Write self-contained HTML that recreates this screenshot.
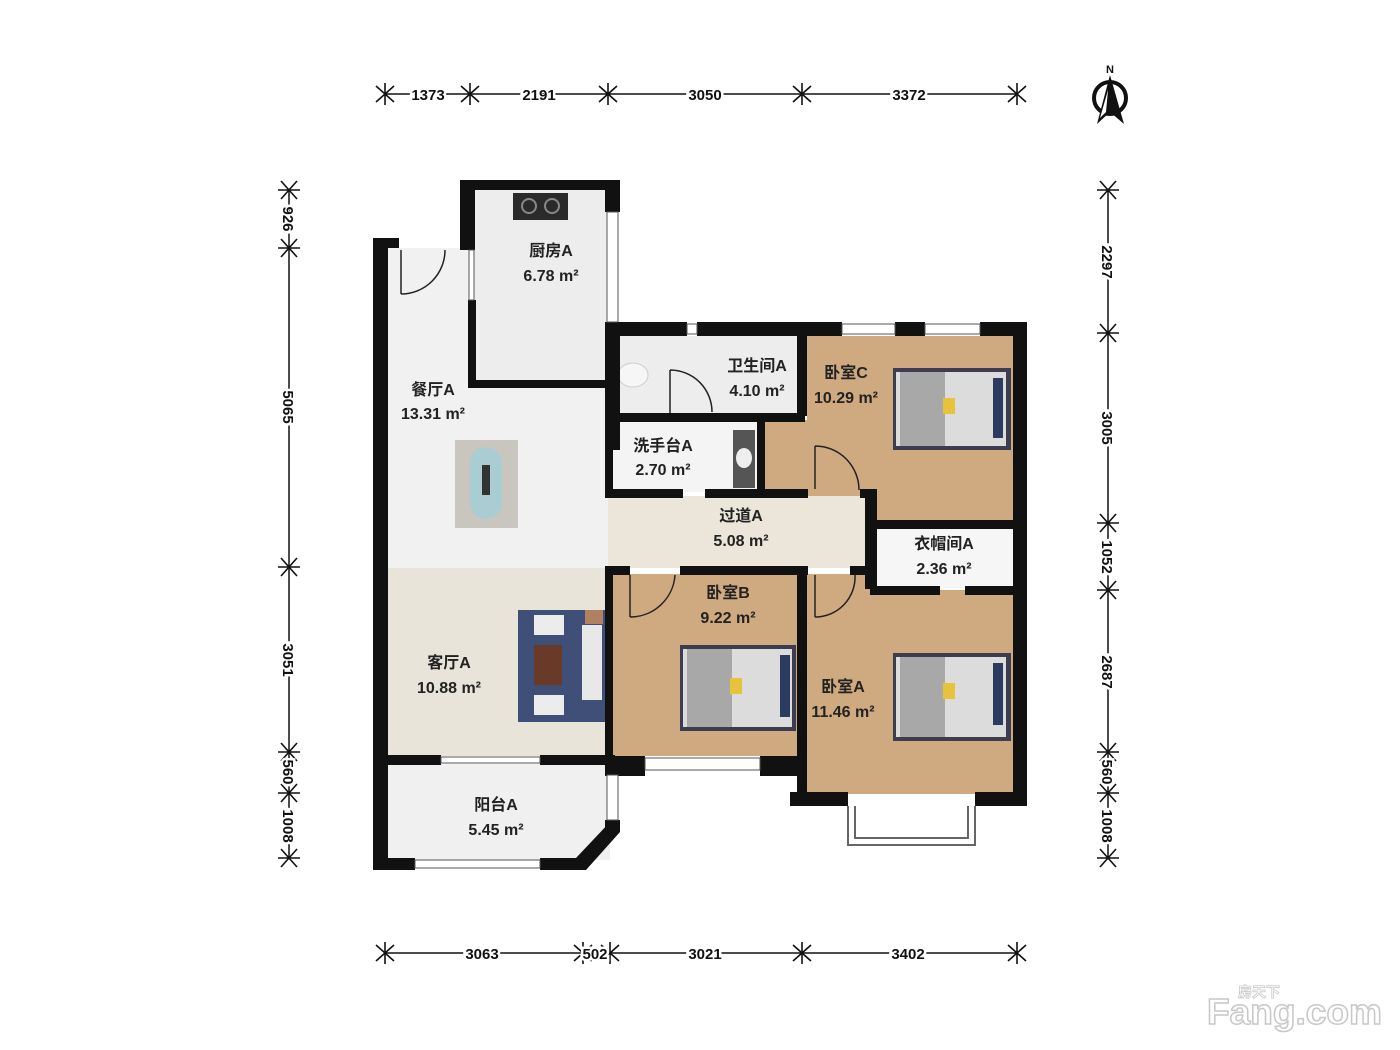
<!DOCTYPE html>
<html><head><meta charset="utf-8"><style>
html,body{margin:0;padding:0;background:#fff;}
svg{display:block;}
text{font-family:"Liberation Sans","Noto Sans CJK SC",sans-serif;font-weight:bold;}
.dim{font-size:15px;fill:#111;stroke:#fff;stroke-width:5px;paint-order:stroke;}
.lbl{font-size:16px;fill:#222;text-anchor:middle;}
</style></head><body>
<svg width="1400" height="1050" viewBox="0 0 1400 1050" xmlns="http://www.w3.org/2000/svg">
<defs>
<g id="tk" stroke="#111" stroke-width="1.6"><line x1="0" y1="-11" x2="0" y2="11"/><line x1="-9" y1="-8" x2="9" y2="8"/><line x1="-9" y1="8" x2="9" y2="-8"/></g>
</defs>
<line x1="385" y1="94" x2="1017" y2="94" stroke="#111" stroke-width="1.5"/>
<use href="#tk" x="385" y="94"/><use href="#tk" x="470" y="94"/><use href="#tk" x="608" y="94"/><use href="#tk" x="802" y="94"/><use href="#tk" x="1017" y="94"/>
<g class="dim" text-anchor="middle"><text x="428" y="100">1373</text><text x="539" y="100">2191</text><text x="705" y="100">3050</text><text x="909" y="100">3372</text></g>
<line x1="385" y1="953" x2="1017" y2="953" stroke="#111" stroke-width="1.5"/>
<use href="#tk" x="385" y="953"/><use href="#tk" x="583" y="953"/><use href="#tk" x="610" y="953"/><use href="#tk" x="802" y="953"/><use href="#tk" x="1017" y="953"/>
<g class="dim" text-anchor="middle"><text x="482" y="959">3063</text><text x="595" y="959">502</text><text x="705" y="959">3021</text><text x="908" y="959">3402</text></g>
<line x1="289" y1="190" x2="289" y2="858" stroke="#111" stroke-width="1.5"/>
<g transform="translate(289,0) rotate(90)"><use href="#tk" x="190" y="0"/><use href="#tk" x="248" y="0"/><use href="#tk" x="567" y="0"/><use href="#tk" x="752" y="0"/><use href="#tk" x="793" y="0"/><use href="#tk" x="858" y="0"/></g>
<g class="dim" text-anchor="middle">
<text transform="translate(283,219) rotate(90)">926</text><text transform="translate(283,407) rotate(90)">5065</text><text transform="translate(283,660) rotate(90)">3051</text><text transform="translate(283,772) rotate(90)">560</text><text transform="translate(283,826) rotate(90)">1008</text></g>
<line x1="1108" y1="190" x2="1108" y2="858" stroke="#111" stroke-width="1.5"/>
<g transform="translate(1108,0) rotate(90)"><use href="#tk" x="190" y="0"/><use href="#tk" x="333" y="0"/><use href="#tk" x="523" y="0"/><use href="#tk" x="590" y="0"/><use href="#tk" x="752" y="0"/><use href="#tk" x="793" y="0"/><use href="#tk" x="858" y="0"/></g>
<g class="dim" text-anchor="middle">
<text transform="translate(1102,262) rotate(90)">2297</text><text transform="translate(1102,428) rotate(90)">3005</text><text transform="translate(1102,557) rotate(90)">1052</text><text transform="translate(1102,672) rotate(90)">2687</text><text transform="translate(1102,772) rotate(90)">560</text><text transform="translate(1102,826) rotate(90)">1008</text></g>
<text x="1110" y="73" font-size="11" text-anchor="middle" fill="#111">N</text>
<circle cx="1110" cy="98" r="16" fill="none" stroke="#111" stroke-width="4"/>
<path d="M1110 75 L1097 124 L1110 112 L1124 124 Z" fill="#111"/>
<path d="M1108 90 L1100 118 L1106 112 Z" fill="#fff"/>
<!-- floors -->
<rect x="388" y="248" width="220" height="320" fill="#f1f1f1"/>
<rect x="475" y="190" width="132" height="192" fill="#ededed"/>
<rect x="388" y="568" width="220" height="188" fill="#e9e4da"/>
<rect x="388" y="764" width="222" height="96" fill="#f0f0f0"/>
<rect x="807" y="336" width="207" height="186" fill="#cfa980"/>
<rect x="765" y="420" width="110" height="75" fill="#cfa980"/>
<rect x="613" y="336" width="186" height="78" fill="#ededed"/>
<rect x="613" y="422" width="146" height="70" fill="#f4f4f4"/>
<rect x="608" y="496" width="258" height="72" fill="#ebe6d9"/>
<rect x="877" y="528" width="136" height="60" fill="#f6f6f6"/>
<rect x="613" y="574" width="186" height="182" fill="#cfa980"/>
<rect x="805" y="590" width="210" height="204" fill="#cfa980"/>
<rect x="805" y="574" width="65" height="20" fill="#cfa980"/>
<!-- furniture -->
<rect x="513" y="193" width="55" height="27" fill="#2a2a2a"/>
<circle cx="529" cy="206" r="7" fill="none" stroke="#888" stroke-width="2"/><circle cx="552" cy="206" r="7" fill="none" stroke="#888" stroke-width="2"/>
<rect x="455" y="440" width="63" height="88" fill="#c9c6bf"/>
<rect x="470" y="447" width="32" height="72" rx="16" fill="#a9cdd3"/>
<rect x="482" y="465" width="8" height="30" fill="#333"/>
<rect x="518" y="610" width="87" height="112" fill="#3f4f78"/>
<rect x="582" y="625" width="20" height="75" fill="#e8e8e8"/>
<rect x="534" y="615" width="30" height="20" fill="#ececec"/><rect x="534" y="695" width="30" height="20" fill="#ececec"/>
<rect x="534" y="645" width="28" height="40" fill="#6a3a28"/>
<rect x="585" y="610" width="18" height="14" fill="#b08060"/>
<g fill="#3d3d4f"><rect x="893" y="368" width="118" height="82"/><rect x="680" y="645" width="116" height="86"/><rect x="893" y="653" width="118" height="88"/></g>
<g fill="#dcdcdc"><rect x="896" y="372" width="110" height="74"/><rect x="683" y="649" width="109" height="78"/><rect x="896" y="657" width="110" height="80"/></g>
<g fill="#a8a8a8"><rect x="900" y="372" width="45" height="74"/><rect x="687" y="649" width="45" height="78"/><rect x="900" y="657" width="45" height="80"/></g>
<g fill="#2c3b60"><rect x="993" y="378" width="10" height="60"/><rect x="780" y="655" width="10" height="62"/><rect x="993" y="663" width="10" height="62"/></g>
<g fill="#e6c33a"><rect x="943" y="398" width="12" height="16"/><rect x="730" y="678" width="12" height="16"/><rect x="943" y="683" width="12" height="16"/></g>
<rect x="733" y="430" width="22" height="58" fill="#555"/><ellipse cx="744" cy="458" rx="8" ry="10" fill="#eee"/>
<ellipse cx="633" cy="375" rx="15" ry="12" fill="#f6f6f6" stroke="#ccc"/>
<!-- walls -->
<g fill="#111">
<rect x="373" y="238" width="15" height="632"/>
<rect x="373" y="238" width="26" height="10"/>
<rect x="460" y="180" width="160" height="10"/>
<rect x="460" y="180" width="15" height="70"/>
<rect x="468" y="300" width="8" height="88"/>
<rect x="468" y="380" width="140" height="8"/>
<rect x="605" y="180" width="15" height="32"/>
<rect x="605" y="322" width="15" height="128"/>
<rect x="605" y="322" width="82" height="14"/>
<rect x="697" y="322" width="145" height="14"/>
<rect x="895" y="322" width="30" height="14"/>
<rect x="980" y="322" width="47" height="14"/>
<rect x="1013" y="322" width="14" height="484"/>
<rect x="797" y="334" width="10" height="82"/>
<rect x="605" y="413" width="200" height="9"/>
<rect x="605" y="413" width="8" height="85"/>
<rect x="757" y="413" width="8" height="85"/>
<rect x="605" y="489" width="78" height="9"/>
<rect x="705" y="489" width="103" height="9"/>
<rect x="860" y="489" width="17" height="9"/>
<rect x="865" y="489" width="12" height="100"/>
<rect x="870" y="520" width="157" height="9"/>
<rect x="870" y="586" width="70" height="9"/>
<rect x="965" y="586" width="62" height="9"/>
<rect x="605" y="566" width="25" height="9"/>
<rect x="680" y="566" width="128" height="9"/>
<rect x="850" y="566" width="27" height="9"/>
<rect x="605" y="566" width="8" height="210"/>
<rect x="797" y="566" width="10" height="240"/>
<rect x="605" y="756" width="40" height="20"/>
<rect x="760" y="756" width="47" height="20"/>
<rect x="790" y="792" width="58" height="14"/>
<rect x="975" y="792" width="52" height="14"/>
<rect x="373" y="755" width="68" height="10"/>
<rect x="540" y="755" width="75" height="10"/>
<rect x="605" y="765" width="15" height="10"/>
<rect x="605" y="820" width="15" height="10"/>
<rect x="373" y="858" width="42" height="12"/>
<rect x="540" y="858" width="40" height="12"/>
<polygon points="610,822 620,822 620,832 586,870 576,870 576,858"/>
</g>
<g fill="#fff" stroke="#555" stroke-width="1">
<rect x="607" y="212" width="11" height="110"/>
<rect x="687" y="324" width="10" height="10"/>
<rect x="842" y="324" width="53" height="10"/><rect x="925" y="324" width="55" height="10"/>
<rect x="645" y="758" width="115" height="12"/>
<rect x="415" y="860" width="125" height="8"/>
<rect x="441" y="757" width="99" height="6"/>
<rect x="607" y="775" width="11" height="45"/>
<rect x="469" y="250" width="5" height="50"/>
</g>
<path d="M848 806 V845 H975 V806 M855 806 V838 H968 V806" fill="none" stroke="#666" stroke-width="2"/>
<g fill="none" stroke="#222" stroke-width="1.5">
<path d="M401 250 V294 M401 294 A44 44 0 0 0 445 250"/>
<path d="M670 413 V370 M670 370 A42 42 0 0 1 712 412"/>
<path d="M815 489 V446 M815 446 A44 44 0 0 1 859 490"/>
<path d="M630 575 V617 M630 617 A45 45 0 0 0 675 575"/>
<path d="M815 575 V617 M815 617 A40 40 0 0 0 855 575"/>
</g>
<g class="lbl">
<text x="551" y="256">厨房A</text><text x="551" y="281">6.78 m²</text>
<text x="433" y="395">餐厅A</text><text x="433" y="419">13.31 m²</text>
<text x="757" y="371">卫生间A</text><text x="757" y="396">4.10 m²</text>
<text x="846" y="378">卧室C</text><text x="846" y="403">10.29 m²</text>
<text x="663" y="451">洗手台A</text><text x="663" y="475">2.70 m²</text>
<text x="741" y="521">过道A</text><text x="741" y="546">5.08 m²</text>
<text x="944" y="549">衣帽间A</text><text x="944" y="574">2.36 m²</text>
<text x="728" y="598">卧室B</text><text x="728" y="623">9.22 m²</text>
<text x="449" y="668">客厅A</text><text x="449" y="693">10.88 m²</text>
<text x="843" y="692">卧室A</text><text x="843" y="717">11.46 m²</text>
<text x="496" y="810">阳台A</text><text x="496" y="835">5.45 m²</text>
</g>
<text x="1207" y="1024" font-size="36" fill="#fff" stroke="#c8c8c8" stroke-width="1.5" textLength="175" lengthAdjust="spacingAndGlyphs">Fang.com</text>
<text x="1238" y="997" font-size="14" fill="#fff" stroke="#c8c8c8" stroke-width="0.8">房天下</text>
</svg>
</body></html>
